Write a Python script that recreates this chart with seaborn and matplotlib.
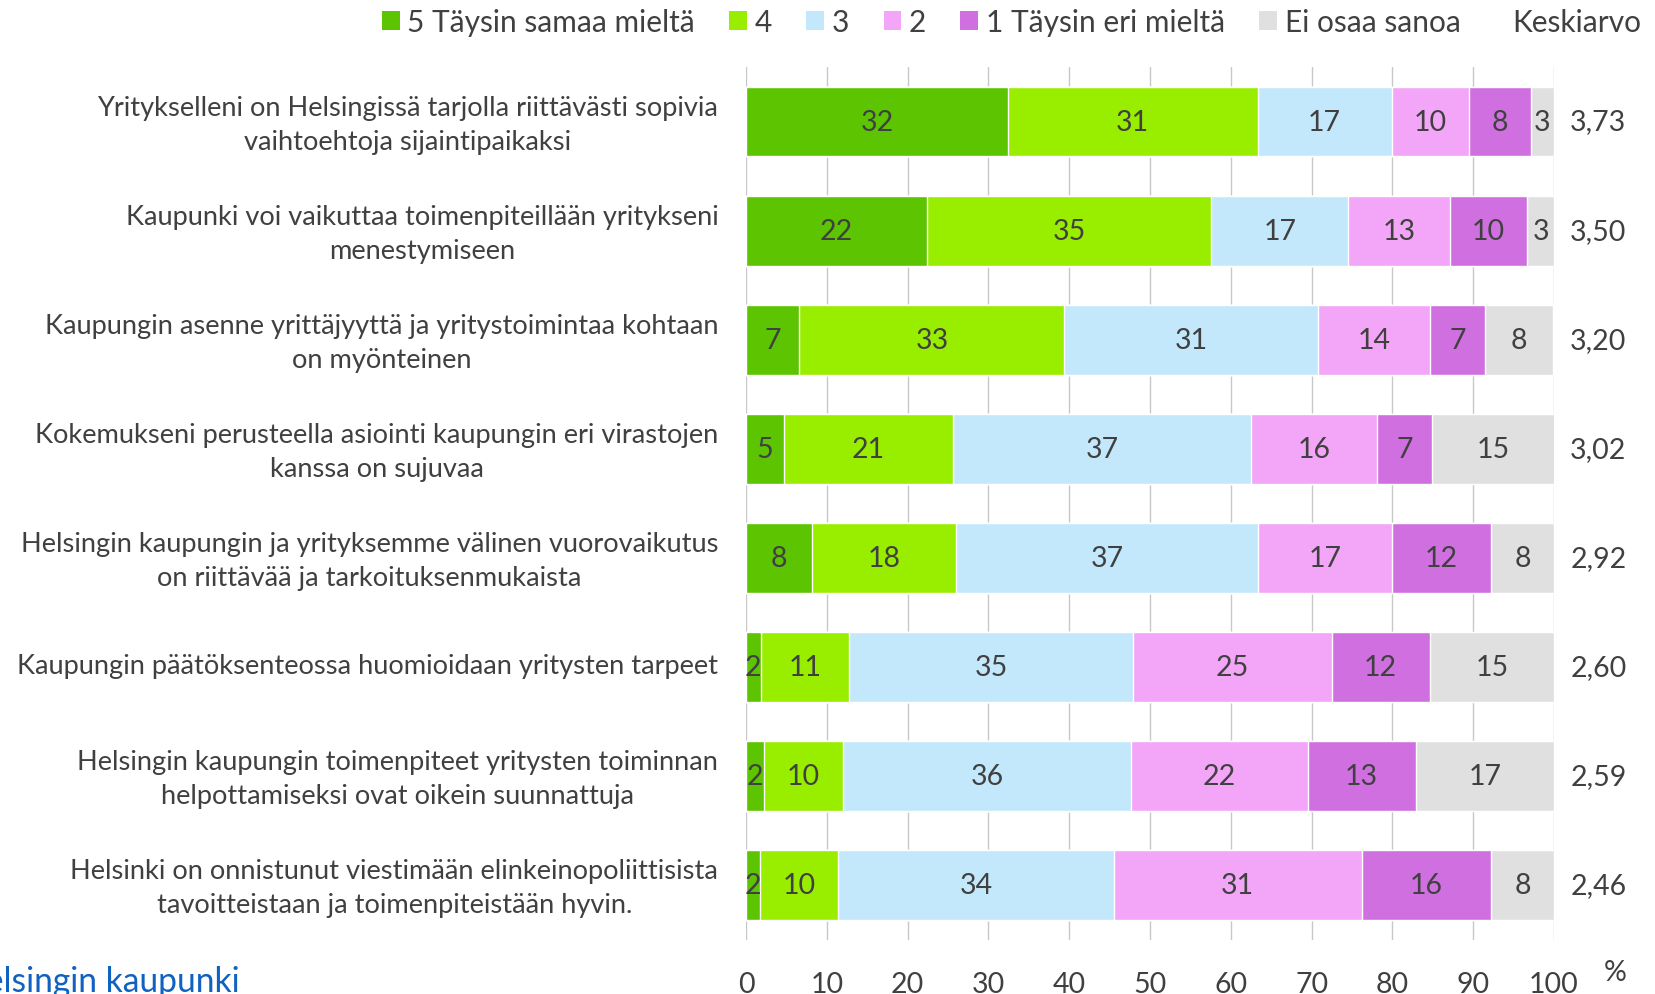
import pandas as pd
import numpy as np
import seaborn as sns
import matplotlib.pyplot as plt
import matplotlib.transforms as mtransforms
from matplotlib.patches import Patch

statements = [
    'Yritykselleni on Helsingissä tarjolla riittävästi sopivia\nvaihtoehtoja sijaintipaikaksi',
    'Kaupunki voi vaikuttaa toimenpiteillään yritykseni\nmenestymiseen',
    'Kaupungin asenne yrittäjyyttä ja yritystoimintaa kohtaan\non myönteinen',
    'Kokemukseni perusteella asiointi kaupungin eri virastojen\nkanssa on sujuvaa',
    'Helsingin kaupungin ja yrityksemme välinen vuorovaikutus\non riittävää ja tarkoituksenmukaista',
    'Kaupungin päätöksenteossa huomioidaan yritysten tarpeet',
    'Helsingin kaupungin toimenpiteet yritysten toiminnan\nhelpottamiseksi ovat oikein suunnattuja',
    'Helsinki on onnistunut viestimään elinkeinopoliittisista\ntavoitteistaan ja toimenpiteistään hyvin.',
]

# shares in % per answer category
taysin_samaa = [32.4, 22.4, 6.6, 4.7, 8.1, 1.8, 2.2, 1.7]
neljä = [30.9, 35.2, 32.8, 20.9, 17.9, 11.0, 9.8, 9.7]
kolme = [16.6, 16.9, 31.4, 36.9, 37.3, 35.1, 35.7, 34.1]
kaksi = [9.6, 12.6, 13.8, 15.6, 16.7, 24.6, 21.8, 30.7]
taysin_eri = [7.6, 9.6, 6.9, 6.8, 12.2, 12.1, 13.4, 16.0]
ei_osaa = [2.9, 3.3, 8.4, 15.2, 7.8, 15.4, 17.1, 7.8]

keskiarvo = [3.73, 3.50, 3.20, 3.02, 2.92, 2.60, 2.59, 2.46]

levels = ['5 Täysin samaa mieltä', '4', '3', '2', '1 Täysin eri mieltä', 'Ei osaa sanoa']
colors = ['#5CC400', '#99EE00', '#C4E8FB', '#F3A6F8', '#D070E0', '#E0E0E0']

df = pd.DataFrame({'statement': statements})
for name, vals in zip(levels, [taysin_samaa, neljä, kolme, kaksi, taysin_eri, ei_osaa]):
    df[name] = vals

cum = df[levels].cumsum(axis=1)

sns.set_style('white')
plt.rcParams['font.family'] = ['Lato', 'DejaVu Sans']
text_color = '#404040'
fs = 19.6
fs_num = 20.5
fs_leg = 21.5

fig = plt.figure(figsize=(16.55, 9.95), dpi=100)
ax = fig.add_axes([0.4508, 0.0543, 0.4882, 0.8774])

# stacked bars: draw cumulative totals from the last category backwards
for name, col in zip(levels[::-1], colors[::-1]):
    sns.barplot(x=cum[name], y=df['statement'], orient='h', color=col,
                width=0.64, saturation=1, ax=ax, zorder=2)

for i in range(len(df)):
    for name in levels:
        v = df.loc[i, name]
        ax.text(cum.loc[i, name] - v / 2, i, f'{v:.0f}', ha='center', va='center',
                fontsize=fs_num, color=text_color, zorder=3)
    ax.text(102, i, f'{keskiarvo[i]:.2f}'.replace('.', ','), ha='left', va='center',
            fontsize=fs_num, color=text_color, clip_on=False)

ax.set_xlim(0, 100)
ax.set_ylim(7.5, -0.5)
ax.set_xticks(np.arange(0, 101, 10))
ax.xaxis.grid(True, color='#C8C8C8', linewidth=1, zorder=0)
ax.set_axisbelow(True)
for s in ax.spines.values():
    s.set_visible(False)
ax.set_xlabel('')
ax.set_ylabel('')
ax.tick_params(axis='x', length=0, pad=22, labelsize=fs_num, labelcolor=text_color)
ax.tick_params(axis='y', length=0, pad=20, labelsize=fs, labelcolor=text_color)
shift_up = mtransforms.ScaledTranslation(0, 0.045, fig.dpi_scale_trans)
for lab in ax.get_yticklabels():
    lab.set_multialignment('center')
    lab.set_linespacing(1.45)
    lab.set_transform(lab.get_transform() + shift_up)

handles = [Patch(facecolor=c, edgecolor='none') for c in colors]
fig.legend(handles, levels, loc='center left', bbox_to_anchor=(0.2308, 0.977),
           ncol=6, frameon=False, fontsize=fs_leg, handlelength=0.6, handleheight=0.6,
           handletextpad=0.25, columnspacing=1.15, borderpad=0, borderaxespad=0,
           labelcolor=text_color)
fig.text(0.9915, 0.977, 'Keskiarvo', ha='right', va='center', fontsize=fs_leg, color=text_color)
fig.text(0.969, 0.022, '%', ha='left', va='center', fontsize=fs_num, color=text_color)
fig.text(0.1448, 0.003, 'Helsingin kaupunki', ha='right', va='baseline',
         fontsize=24.2, color='#0F62C0')

fig.savefig('out.png', dpi=100)
plt.close(fig)
